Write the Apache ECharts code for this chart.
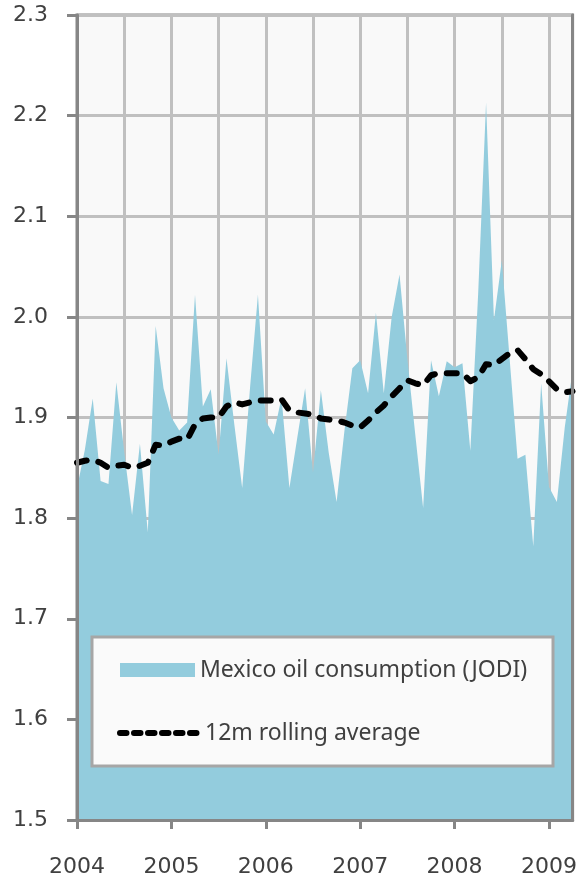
<!DOCTYPE html>
<html>
<head>
<meta charset="utf-8">
<script src="https://cdn.jsdelivr.net/npm/echarts@6/dist/echarts.min.js"></script>
<style>
  html, body { margin: 0; padding: 0; background: #fff; }
  #chart { width: 580px; height: 881px; }
</style>
</head>
<body>
<div id="chart"></div>
<script>
// monthly, Jan 2004 .. Apr 2009
const startYear = 2004
const monthCount = 64
const months = []
for (let i = 0; i < monthCount; i++) {
  months.push(`${startYear + Math.floor(i / 12)}-${(i % 12) + 1}`)
}

// Mexico oil consumption (JODI), mb/d
const consumption = [
  1.830, 1.868, 1.919, 1.837, 1.834, 1.935, 1.866, 1.803, 1.874, 1.786, 1.991, 1.929,
  1.900, 1.887, 1.895, 2.022, 1.911, 1.928, 1.863, 1.959, 1.893, 1.830, 1.930, 2.022,
  1.896, 1.883, 1.920, 1.830, 1.880, 1.929, 1.845, 1.927, 1.865, 1.816, 1.887, 1.949,
  1.957, 1.924, 2.004, 1.924, 2.000, 2.042, 1.958, 1.883, 1.810, 1.957, 1.921, 1.956,
  1.950, 1.954, 1.867, 2.024, 2.213, 1.997, 2.056, 1.958, 1.859, 1.863, 1.772, 1.934,
  1.831, 1.816, 1.890, 1.947
]

// 12m rolling average
const rolling = [
  1.855, 1.857, 1.858, 1.855, 1.850, 1.852, 1.853, 1.850, 1.852, 1.855, 1.873, 1.872,
  1.876, 1.879, 1.878, 1.893, 1.899, 1.900, 1.900, 1.911, 1.915, 1.913, 1.915, 1.917,
  1.917, 1.917, 1.918, 1.907, 1.905, 1.904, 1.903, 1.899, 1.898, 1.897, 1.895, 1.892,
  1.890, 1.897, 1.905, 1.912, 1.921, 1.929, 1.937, 1.934, 1.932, 1.942, 1.944, 1.944,
  1.944, 1.944, 1.936, 1.940, 1.953, 1.952, 1.958, 1.964, 1.967, 1.958, 1.948, 1.943,
  1.936, 1.928, 1.925, 1.926
]

const yMin = 1.5
const yMax = 2.3
const yStep = 0.1

const axisColor = '#868686'
const gridColor = '#c0c0c0'
const textColor = '#404040'
const fillColor = '#93ccdd'
const labelFont = 'DejaVu Sans'
const legendFont = 'Noto Sans'

const chart = echarts.init(document.getElementById('chart'))

chart.setOption({
  animation: false,
  grid: {
    left: 77, right: 6, top: 15, bottom: 61,
    show: true,
    backgroundColor: '#f9f9f9',
    borderColor: axisColor,
    borderWidth: 3,
  },
  graphic: [
    {
      type: 'rect',
      z: 5,
      shape: { x: 92, y: 637, width: 461, height: 129 },
      style: { fill: '#fafafa', stroke: '#a6a6a6', lineWidth: 3 },
    },
  ],
  legend: [
    {
      z: 10,
      left: 120, top: 658,
      padding: 0,
      itemWidth: 75, itemHeight: 14, itemGap: 10,
      data: [{ name: 'Mexico oil consumption (JODI)', icon: 'rect' }],
      textStyle: { color: textColor, fontSize: 23, lineHeight: 24, fontFamily: legendFont },
    },
    {
      z: 10,
      left: 117, top: 721,
      padding: 0,
      itemWidth: 80, itemHeight: 14, itemGap: 7,
      data: ['12m rolling average'],
      itemStyle: { color: 'transparent', borderWidth: 0, opacity: 0 },
      lineStyle: { type: [6.5, 7.5], cap: 'round', width: 6 },
      textStyle: { color: textColor, fontSize: 23, lineHeight: 24, fontFamily: legendFont },
    },
  ],
  xAxis: [
    {
      type: 'category',
      data: months,
      boundaryGap: false,
      axisLine: { show: false },
      axisTick: { show: false },
      axisLabel: { show: false },
      splitLine: { show: true, interval: 5, lineStyle: { color: gridColor, width: 3 } },
    },
    {
      type: 'category',
      data: months,
      boundaryGap: false,
      position: 'bottom',
      z: 5,
      axisLine: { show: true, lineStyle: { color: axisColor, width: 3 } },
      axisTick: { show: true, interval: 11, length: 9, lineStyle: { color: axisColor, width: 3 } },
      axisLabel: {
        interval: 11,
        margin: 36,
        color: textColor,
        fontSize: 22,
        fontFamily: labelFont,
        formatter: v => v.split('-')[0],
      },
      splitLine: { show: false },
    },
  ],
  yAxis: [
    {
      type: 'value',
      min: yMin, max: yMax, interval: yStep,
      axisLine: { show: false },
      axisTick: { show: false },
      axisLabel: { show: false },
      splitLine: { show: true, lineStyle: { color: gridColor, width: 3 } },
    },
    {
      type: 'value',
      min: yMin, max: yMax, interval: yStep,
      position: 'left',
      z: 5,
      axisLine: { show: true, lineStyle: { color: axisColor, width: 3 } },
      axisTick: { show: true, length: 10, lineStyle: { color: axisColor, width: 3 } },
      axisLabel: {
        margin: 29,
        color: textColor,
        fontSize: 22,
        fontFamily: labelFont,
        formatter: v => v.toFixed(1),
      },
      splitLine: { show: false },
    },
    {
      type: 'value',
      min: yMin, max: yMax, interval: yStep,
      position: 'right',
      z: 5,
      axisLine: { show: true, lineStyle: { color: axisColor, width: 3 } },
      axisTick: { show: false },
      axisLabel: { show: false },
      splitLine: { show: false },
    },
  ],
  series: [
    {
      name: 'Mexico oil consumption (JODI)',
      type: 'line',
      data: consumption,
      symbol: 'none',
      color: fillColor,
      lineStyle: { width: 0 },
      areaStyle: { color: fillColor, opacity: 1, origin: 'start' },
      z: 2,
    },
    {
      name: '12m rolling average',
      type: 'line',
      data: rolling,
      symbol: 'none',
      color: '#000',
      lineStyle: { color: '#000', width: 6, type: [10, 12], cap: 'round', join: 'round' },
      z: 3,
    },
  ],
})
</script>
</body>
</html>
